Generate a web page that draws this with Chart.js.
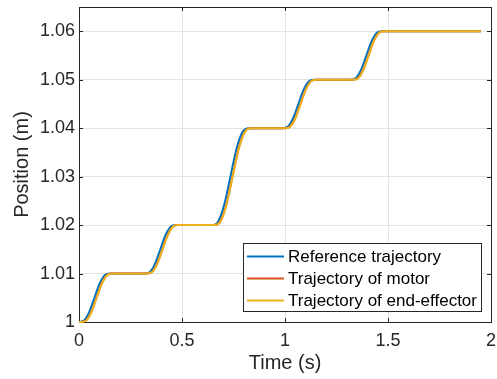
<!DOCTYPE html>
<html>
<head>
<meta charset="utf-8">
<title>Position tracking</title>
<script src="https://cdn.jsdelivr.net/npm/chart.js@4.4.1/dist/chart.umd.min.js"></script>
<style>
  body { margin: 0; background: #fff; }
  #wrap { width: 497px; height: 379px; }
</style>
</head>
<body>
<div id="wrap"><canvas id="posChart" width="497" height="379"></canvas></div>
<script>
// Reference trajectory (s, m)
const refTime = [0, 0.025, 0.05, 0.075, 0.1, 0.125, 0.15,
  0.32, 0.345, 0.37, 0.395, 0.42, 0.445, 0.47,
  0.645, 0.675, 0.705, 0.735, 0.765, 0.795, 0.825,
  0.99, 1.015, 1.04, 1.065, 1.09, 1.115, 1.14,
  1.32, 1.345, 1.37, 1.395, 1.42, 1.445, 1.47,
  1.95];
const refPos = [1, 1.00035, 1.0021, 1.005, 1.0079, 1.00965, 1.01,
  1.01, 1.01035, 1.0121, 1.015, 1.0179, 1.01965, 1.02,
  1.02, 1.0207, 1.0242, 1.03, 1.0358, 1.0393, 1.04,
  1.04, 1.04035, 1.0421, 1.045, 1.0479, 1.04965, 1.05,
  1.05, 1.05035, 1.0521, 1.055, 1.0579, 1.05965, 1.06,
  1.06];

// Motor and end-effector follow a little behind the reference
const actTime = [0, 0.01, 0.035, 0.06, 0.085, 0.11, 0.135, 0.16,
  0.33, 0.355, 0.38, 0.405, 0.43, 0.455, 0.48,
  0.655, 0.685, 0.715, 0.745, 0.775, 0.805, 0.835,
  1.0, 1.025, 1.05, 1.075, 1.1, 1.125, 1.15,
  1.33, 1.355, 1.38, 1.405, 1.43, 1.455, 1.48,
  1.95];
const motorPos = [1, 1, 1.00035, 1.0021, 1.005, 1.0079, 1.00965, 1.01,
  1.01, 1.01035, 1.0121, 1.015, 1.0179, 1.01965, 1.02,
  1.02, 1.0207, 1.0242, 1.03, 1.0358, 1.0393, 1.04,
  1.04, 1.04035, 1.0421, 1.045, 1.0479, 1.04965, 1.05,
  1.05, 1.05035, 1.0521, 1.055, 1.0579, 1.05965, 1.06,
  1.06];
const effectorPos = [1, 1, 1.0003, 1.002, 1.0049, 1.0078, 1.0096, 1.01,
  1.01, 1.0103, 1.012, 1.0149, 1.0178, 1.0196, 1.02,
  1.02, 1.0206, 1.024, 1.0298, 1.0356, 1.0392, 1.04,
  1.04, 1.0403, 1.042, 1.0449, 1.0478, 1.0496, 1.05,
  1.05, 1.0503, 1.052, 1.0549, 1.0578, 1.0596, 1.06,
  1.06];

const seriesNames = ['Reference trajectory', 'Trajectory of motor', 'Trajectory of end-effector'];
const xTicks = [0, 0.5, 1, 1.5, 2];
const xTickLabels = ['0', '0.5', '1', '1.5', '2'];
const yTicks = [1, 1.01, 1.02, 1.03, 1.04, 1.05, 1.06];
const yTickLabels = ['1', '1.01', '1.02', '1.03', '1.04', '1.05', '1.06'];

const axisColor = '#262626';
const fontFamily = '"Liberation Sans", Arial, Helvetica, sans-serif';

function pts(t, y) {
  return t.map((v, i) => ({ x: v, y: y[i] }));
}

// box round the axes, with inward tick marks on all four sides
const boxPlugin = {
  id: 'axesBox',
  beforeDatasetsDraw(chart) {
    const { ctx, chartArea: a, scales } = chart;
    const len = 4;
    ctx.save();
    ctx.strokeStyle = axisColor;
    ctx.lineWidth = 1;
    ctx.beginPath();
    ctx.rect(Math.round(a.left) + 0.5, Math.round(a.top) + 0.5,
      Math.round(a.right - a.left), Math.round(a.bottom - a.top));
    xTicks.forEach(v => {
      const x = Math.round(scales.x.getPixelForValue(v)) + 0.5;
      ctx.moveTo(x, a.bottom); ctx.lineTo(x, a.bottom - len);
      ctx.moveTo(x, a.top); ctx.lineTo(x, a.top + len);
    });
    yTicks.forEach(v => {
      const y = Math.round(scales.y.getPixelForValue(v)) + 0.5;
      ctx.moveTo(a.left, y); ctx.lineTo(a.left + len, y);
      ctx.moveTo(a.right, y); ctx.lineTo(a.right - len, y);
    });
    ctx.stroke();
    ctx.restore();
  }
};

// legend sitting in the lower right corner of the axes
const legendPlugin = {
  id: 'cornerLegend',
  afterDatasetsDraw(chart) {
    const { ctx, chartArea: a } = chart;
    const sets = chart.data.datasets;
    ctx.save();
    ctx.font = '17px ' + fontFamily;
    const textW = Math.max(...sets.map(d => ctx.measureText(d.label).width));
    const lineLen = 37, padL = 4, gap = 4, padR = 4;
    const w = padL + lineLen + gap + textW + padR;
    const h = 68;
    const right = a.right - 10;
    const bottom = a.bottom - 11;
    const left = Math.round(right - w), top = Math.round(bottom - h);
    ctx.fillStyle = '#fff';
    ctx.fillRect(left, top, w, h);
    ctx.strokeStyle = axisColor;
    ctx.lineWidth = 1;
    ctx.strokeRect(left + 0.5, top + 0.5, Math.round(w), h);
    sets.forEach((d, i) => {
      const y = top + 13.5 + i * 22;
      ctx.strokeStyle = d.borderColor;
      ctx.lineWidth = 2;
      ctx.beginPath();
      ctx.moveTo(left + padL, y);
      ctx.lineTo(left + padL + lineLen, y);
      ctx.stroke();
      ctx.fillStyle = '#000';
      ctx.textBaseline = 'middle';
      ctx.textAlign = 'left';
      ctx.fillText(d.label, left + padL + lineLen + gap, y + 1);
    });
    ctx.restore();
  }
};

const ctx = document.getElementById('posChart').getContext('2d');

const chart = new Chart(ctx, {
  type: 'line',
  data: {
    datasets: [
      { label: seriesNames[0], data: pts(refTime, refPos), borderColor: '#0072BD', order: 2 },
      { label: seriesNames[1], data: pts(actTime, motorPos), borderColor: '#D95319', order: 1 },
      { label: seriesNames[2], data: pts(actTime, effectorPos), borderColor: '#EDB120', order: 0 }
    ]
  },
  options: {
    responsive: false,
    animation: false,
    events: [],
    layout: { padding: { top: 7, right: 6, left: 0, bottom: 0 } },
    elements: {
      point: { radius: 0 },
      line: { borderWidth: 2, cubicInterpolationMode: 'monotone', fill: false }
    },
    datasets: { line: { clip: false } },
    plugins: { legend: { display: false }, tooltip: { enabled: false } },
    scales: {
      x: {
        type: 'linear',
        min: 0,
        max: 2,
        afterFit: s => { s.height = 57; s.paddingLeft = 0; s.paddingRight = 0; },
        afterBuildTicks: s => { s.ticks = xTicks.map(v => ({ value: v })); },
        grid: { color: '#e3e3e3', drawTicks: false },
        border: { color: axisColor },
        ticks: {
          padding: 8,
          color: axisColor,
          font: { family: fontFamily, size: 18 },
          maxRotation: 0,
          callback: v => xTickLabels[xTicks.indexOf(v)]
        },
        title: {
          display: true,
          text: 'Time (s)',
          color: axisColor,
          font: { family: fontFamily, size: 20 },
          padding: { top: 0, bottom: 4 }
        }
      },
      y: {
        type: 'linear',
        min: 1,
        max: 1.065,
        afterFit: s => { s.width = 79; s.paddingTop = 0; s.paddingBottom = 0; },
        afterBuildTicks: s => { s.ticks = yTicks.map(v => ({ value: v })); },
        grid: { color: '#e3e3e3', drawTicks: false },
        border: { color: axisColor },
        ticks: {
          padding: 4,
          color: axisColor,
          font: { family: fontFamily, size: 18 },
          callback: v => yTickLabels[yTicks.findIndex(t => Math.abs(t - v) < 1e-9)]
        },
        title: {
          display: true,
          text: 'Position (m)',
          color: axisColor,
          font: { family: fontFamily, size: 20 },
          padding: { top: 10, bottom: 0 }
        }
      }
    }
  },
  plugins: [boxPlugin, legendPlugin]
});
</script>
</body>
</html>
